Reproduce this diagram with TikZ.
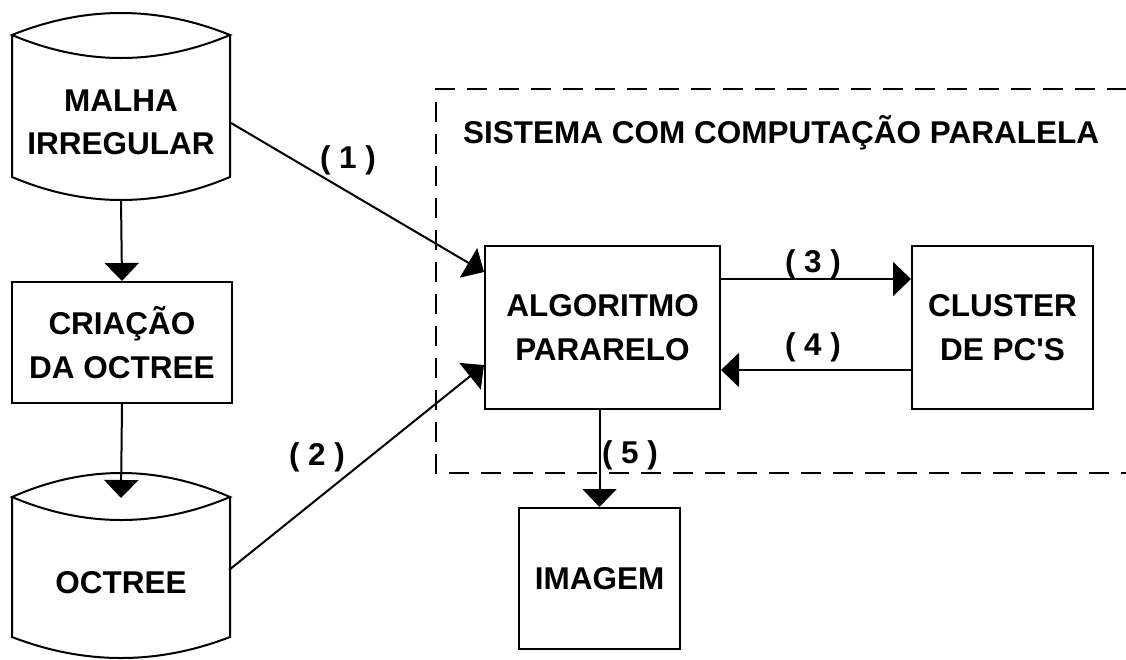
\documentclass[tikz,border=0pt]{standalone}
\usepackage{fontspec}
\setmainfont{Liberation Sans}
\usetikzlibrary{arrows.meta,calc}

% stored-data symbol: lens-shaped top, straight sides, curved bottom
% #1 left x, #2 right x, #3 top peak y, #4 corner y, #5 lens bottom y,
% #6 side bottom y, #7 bottom curve y
\newcommand\drumshape[7]{%
  \draw[wire] (#1,#4)
    .. controls ({#1+(#2-#1)/3},{#4+4/3*(#3-#4)}) and ({#1+2*(#2-#1)/3},{#4+4/3*(#3-#4)}) .. (#2,#4)
    .. controls ({#1+2*(#2-#1)/3},{#4+4/3*(#5-#4)}) and ({#1+(#2-#1)/3},{#4+4/3*(#5-#4)}) .. cycle;
  \draw[wire] (#1,#4) -- (#1,#6)
    .. controls ({#1+(#2-#1)/3},{#6+4/3*(#7-#6)}) and ({#1+2*(#2-#1)/3},{#6+4/3*(#7-#6)}) .. (#2,#6)
    -- (#2,#4);
}

\begin{document}
\begin{tikzpicture}[x=1pt,y=-1pt,
  every node/.style={font=\bfseries\fontsize{31.5}{43.5}\selectfont, align=center, inner sep=0pt},
  wire/.style={line width=2pt},
  arr/.style={line width=2pt, -{Triangle[length=18pt,width=34pt]}},
  blockbox/.style={draw, line width=2pt},
  lbl/.style={anchor=base},
  frame/.style={line width=2pt, dash pattern=on 20pt off 12pt}
]
\useasboundingbox (0,0) rectangle (1126,659);

% parallel computing system frame (right side runs along the page edge)
\draw[frame] (1126.6,89) -- (436,89) -- (436,473) -- (1126.6,473) -- cycle;
\node[anchor=base west] (title) at (463,143) {SISTEMA COM COMPUTAÇÃO PARALELA};

% input mesh
\drumshape{12}{230}{13}{35}{58}{177}{200}
\node (malha) at (121,122.5) {MALHA\\IRREGULAR};
\coordinate (malhaout) at (121,200);
\coordinate (malharight) at (231,123);

% octree creation
\node[blockbox, minimum width=220pt, minimum height=121pt] (criacao) at (122,342.5) {CRIAÇÃO\\DA OCTREE};

% octree storage
\drumshape{12}{230}{473}{497}{520}{637}{658}
\node (octree) at (121,583) {OCTREE};
\coordinate (octreein) at (121,498);
\coordinate (octreeright) at (229,570);

% processing blocks
\node[blockbox, minimum width=235pt, minimum height=163pt] (algoritmo) at (602.5,327.5) {ALGORITMO\\PARARELO};
\node[blockbox, minimum width=181pt, minimum height=163pt] (cluster) at (1002.5,327.5) {CLUSTER\\DE PC\textquotesingle S};
\node[blockbox, minimum width=161pt, minimum height=141pt] (imagem) at (599.5,578.5) {IMAGEM};

% data flow
\draw[arr] (malhaout) -- (criacao.north);
\draw[arr] (criacao.south) -- (octreein);
\draw[arr] (malharight) -- ([yshift=55.5pt]algoritmo.west);
\draw[arr] (octreeright) -- ([yshift=-37.5pt]algoritmo.west);
\draw[arr] ([yshift=48.5pt]algoritmo.east) -- ([yshift=48.5pt]cluster.west);
\draw[arr] ([yshift=-42.5pt]cluster.west) -- ([yshift=-42.5pt]algoritmo.east);
\draw[arr] (imagem.north |- algoritmo.south) -- (imagem.north);

% step numbers
\node[lbl] (l1) at (348,168) {( 1 )};
\node[lbl] (l2) at (317,465) {( 2 )};
\node[lbl] (l3) at (813,272) {( 3 )};
\node[lbl] (l4) at (813,355) {( 4 )};
\node[lbl] (l5) at (630,463) {( 5 )};
\end{tikzpicture}
\end{document}
